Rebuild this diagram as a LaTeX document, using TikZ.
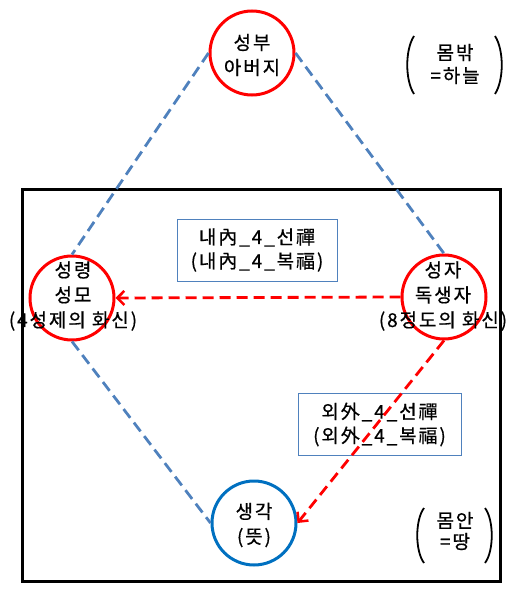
\documentclass[tikz,border=0pt]{standalone}
\usepackage{fontspec}
\newfontfamily\kfont[LetterSpace=10,FakeBold=0.6]{Noto Sans CJK KR}
\usetikzlibrary{arrows.meta}
\definecolor{dashblue}{RGB}{79,129,189}
\definecolor{circblue}{RGB}{0,112,192}
\tikzset{
  ring/.style={circle, draw=red, line width=3pt, minimum size=84pt, inner sep=0pt},
  bluering/.style={ring, draw=circblue},
  txt/.style={font=\kfont\fontsize{19}{25}\selectfont, align=center, inner sep=0pt},
  link/.style={draw=dashblue, line width=2.8pt, dash pattern=on 11pt off 6pt},
  flow/.style={draw=red, line width=2.8pt, dash pattern=on 11pt off 6pt, -{Straight Barb[length=7pt,width=14pt,line width=2.5pt]}},
  infobox/.style={draw=dashblue, line width=1pt, minimum width=160pt, minimum height=62pt, align=center, font=\kfont\fontsize{19}{24}\selectfont, inner sep=0pt},
  frame/.style={draw=black, line width=3pt},
  paren/.style={font=\kfont\fontsize{19}{23}\selectfont, align=center, inner sep=0pt},
  bracket/.style={draw=black, line width=1.8pt}
}
\begin{document}
\begin{tikzpicture}[x=1pt,y=-1pt]
\useasboundingbox (0,0) rectangle (520,591);
\draw[frame] (22,189) rectangle (500,581);
% circles
\node[ring] (top) at (252,53) {};
\node[ring] (left) at (72,298) {};
\node[ring] (right) at (444,297) {};
\node[bluering] (bottom) at (254,523) {};
% texts
\node[txt] (toptxt) at (252,55) {성부\\아버지};
\node[txt] (lefttxt) at (73,296) {성령\\성모\\(4성제의 화신)};
\node[txt] (righttxt) at (443,296) {성자\\독생자\\(8정도의 화신)};
\node[txt] (bottomtxt) at (254,525) {생각\\(뜻)};
% boxes
\node[infobox] (inner) at (257,250) {내內\_4\_선禪\\(내內\_4\_복福)};
\node[infobox, minimum width=163pt] (outer) at (379.5,424.5) {외外\_4\_선禪\\(외外\_4\_복福)};
% side notes
\node[paren] (sky) at (455,64) {몸밖\\=하늘};
\draw[bracket] (414,36) .. controls (405,50) and (405,80) .. (414,94);
\draw[bracket] (495,36) .. controls (504,50) and (504,80) .. (495,94);
\node[paren, font=\kfont\fontsize{19}{21}\selectfont] (earth) at (455,531) {몸안\\=땅};
\draw[bracket] (424,508) .. controls (415,520) and (415,551) .. (424,563);
\draw[bracket] (485,508) .. controls (494,520) and (494,551) .. (485,563);
% connectors
\draw[link] (top.west) -- (left.north);
\draw[link] (top.east) -- (right.north);
\draw[link] (left.south) -- (bottom.west);
\draw[flow] (right.west) -- (left.east);
\draw[flow] (right.south) -- (bottom.east);
\end{tikzpicture}
\end{document}
